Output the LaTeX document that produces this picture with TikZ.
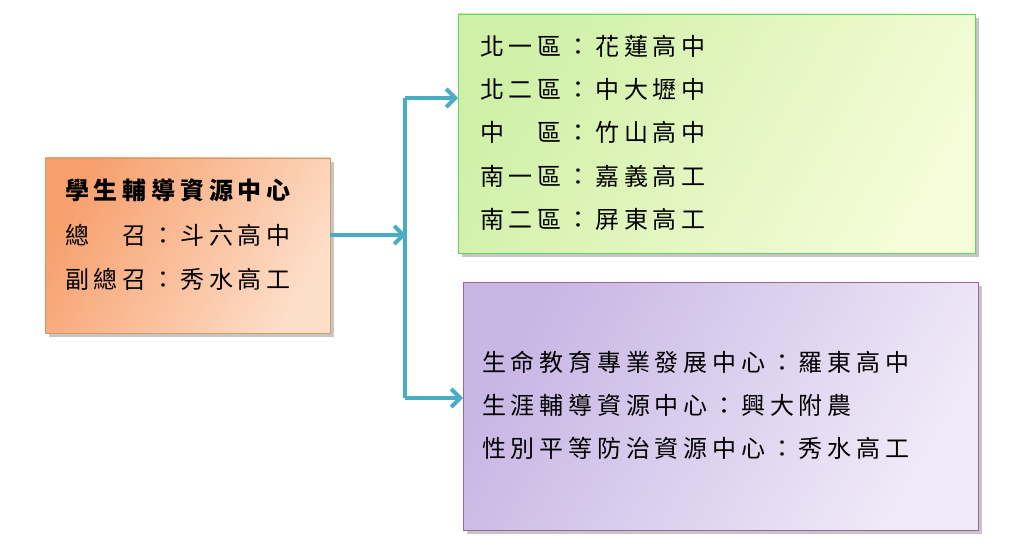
\documentclass[tikz,border=0pt]{standalone}
\usepackage{fontspec}
\newfontfamily\cjk[LetterSpace=20]{Noto Sans CJK TC}
\usetikzlibrary{shadows,arrows.meta}
\definecolor{conn}{RGB}{75,172,198}
\tikzset{
  box/.style={draw=#1!70!black!60, line width=0.8pt, drop shadow={shadow xshift=4pt,shadow yshift=-4pt,opacity=0.45}},
  txt/.style={anchor=west, inner sep=0pt, font=\cjk\fontsize{24}{28}\selectfont},
  conn/.style={draw=conn, line width=4pt},
  arr/.style={conn, -{Straight Barb[length=9pt,width=18pt,line width=4pt]}}
}
\begin{document}
\begin{tikzpicture}[x=1pt,y=-1pt]
\useasboundingbox (0,0) rectangle (1024,553);
\path[box=orange, left color={rgb,255:red,247;green,160;blue,110}, right color={rgb,255:red,253;green,222;blue,200}, shading angle=60] (45,158) rectangle (330,333);
\path[box=green, left color={rgb,255:red,208;green,240;blue,168}, right color={rgb,255:red,245;green,252;blue,215}, shading angle=60] (458,14) rectangle (975,253);
\path[box=violet, left color={rgb,255:red,200;green,182;blue,228}, right color={rgb,255:red,240;green,234;blue,248}, shading angle=60] (463,282) rectangle (978,530);
\coordinate (o) at (330,235); \coordinate (j) at (405,235);
\coordinate (t) at (405,98); \coordinate (b) at (405,398);
\coordinate (g) at (458,98); \coordinate (p) at (463,398);
\draw[conn] (o) -- (j);
\draw[conn] (t) -- (b);
\draw[arr] (t) -- (g);
\draw[arr] (b) -- (p);
\draw[arr] ([xshift=-1pt]j) -- ++(2,0);
\node[txt,font=\cjk\bfseries\fontsize{24}{28}\selectfont] (o1) at (65,190) {學生輔導資源中心};
\node[txt] (o2) at (65,235) {總　召：斗六高中};
\node[txt] (o3) at (65,279) {副總召：秀水高工};
\node[txt] (g1) at (480,46) {北一區：花蓮高中};
\node[txt] (g2) at (480,89) {北二區：中大壢中};
\node[txt] (g3) at (480,132) {中　區：竹山高中};
\node[txt] (g4) at (480,176) {南一區：嘉義高工};
\node[txt] (g5) at (480,219) {南二區：屏東高工};
\node[txt] (p1) at (482,362) {生命教育專業發展中心：羅東高中};
\node[txt] (p2) at (482,405) {生涯輔導資源中心：興大附農};
\node[txt] (p3) at (482,448) {性別平等防治資源中心：秀水高工};
\end{tikzpicture}
\end{document}
